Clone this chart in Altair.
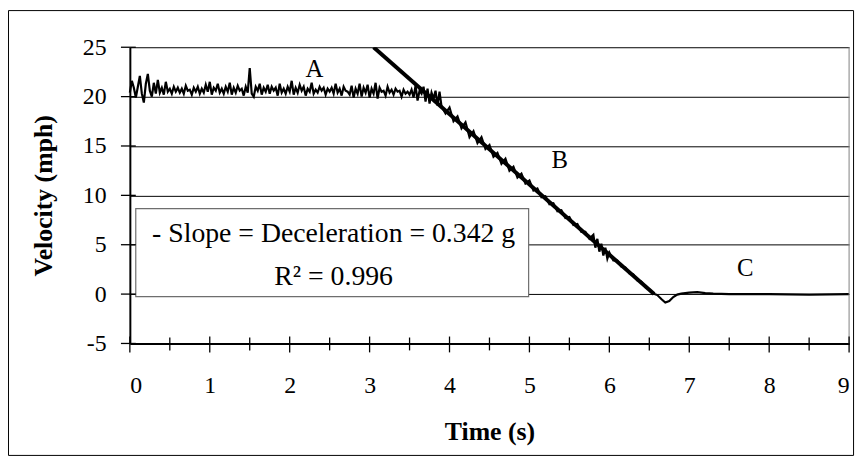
import altair as alt
import pandas as pd

# ---------------- data ----------------
# Region A: velocity sampled every 0.025 s starting at t = 0.000 s
plateau_step = 0.025
plateau_v = [
    20.4, 21.6, 20.9, 19.9, 21.0, 22.1, 20.3, 19.4, 21.3, 22.3, 20.6, 20.0, 21.4, 20.3, 21.7, 20.4, 20.9, 20.2, 21.5, 20.5,
    20.8, 20.3, 21.0, 20.5, 20.9, 20.4, 20.8, 20.3, 21.1, 20.6, 20.7, 20.2, 20.9, 20.5, 21.0, 20.3, 20.8, 20.4, 21.2, 20.5,
    21.5, 20.2, 20.9, 20.6, 21.3, 20.4, 20.8, 20.3, 21.0, 20.5, 21.4, 20.2, 20.9, 20.4, 21.1, 20.6, 20.8, 20.1, 21.0, 20.4,
    22.9, 20.3, 20.0, 21.0, 20.6, 21.3, 20.2, 20.9, 20.5, 21.2, 20.3, 21.0, 20.6, 20.9, 20.1, 21.3, 20.4, 20.8, 20.3, 21.0,
    20.5, 21.6, 20.2, 20.9, 20.4, 21.2, 20.6, 21.0, 20.1, 20.8, 20.5, 21.4, 20.3, 20.7, 20.4, 21.0, 20.6, 20.9, 20.2, 20.8,
    20.5, 20.9, 20.3, 21.3, 20.4, 20.8, 20.1, 21.0, 20.6, 20.5, 20.2, 21.1, 19.9, 20.8, 20.3, 21.3, 20.0, 20.9, 20.4, 21.2,
    19.9, 20.8, 20.3, 21.4, 19.8, 20.9, 20.5, 20.6, 20.1, 21.0, 20.4, 20.7, 20.2, 20.8, 20.5, 20.6, 20.0, 20.7, 20.3, 20.5,
    20.2, 20.7, 19.9, 21.1, 19.6, 20.6, 20.3, 21.0, 19.5, 20.8, 19.3, 20.4, 19.8, 20.6, 19.1, 20.5,
]

# Region B: braking
decline_t = [3.900, 3.950, 4.000, 4.050, 4.100, 4.150, 4.200, 4.250, 4.300, 4.350,
             4.400, 4.450, 4.500, 4.550, 4.600, 4.650, 4.700, 4.750, 4.800, 4.850,
             4.900, 4.950, 5.000, 5.050, 5.100, 5.150, 5.200, 5.250, 5.300, 5.350,
             5.400, 5.450, 5.500, 5.550, 5.600, 5.650, 5.700, 5.750, 5.800, 5.825,
             5.850, 5.875, 5.900, 5.925, 5.950, 5.975, 6.000, 6.050, 6.100, 6.150,
             6.200, 6.250, 6.300, 6.350, 6.400, 6.450, 6.500, 6.550]
decline_v = [19.0, 18.3, 18.9, 17.5, 18.0, 16.8, 17.4, 15.9, 16.5, 15.3,
             15.9, 14.7, 15.1, 13.9, 14.3, 13.2, 13.7, 12.5, 12.9, 11.8,
             12.2, 11.2, 11.5, 10.5, 10.7, 9.8, 9.9, 9.1, 9.2, 8.4,
             8.5, 7.7, 7.8, 7.0, 7.1, 6.3, 6.3, 5.6, 6.0, 4.7,
             5.6, 4.3, 5.1, 3.9, 4.7, 3.6, 4.2, 3.4, 3.4, 2.8,
             2.7, 2.1, 2.0, 1.4, 1.25, 0.7, 0.5, 0.05]

# Region C: stopped
tail_t = [6.60, 6.65, 6.70, 6.75, 6.80, 6.85, 6.90, 7.00, 7.10, 7.20, 7.30, 7.50, 8.00, 8.50, 9.00]
tail_v = [-0.1, -0.5, -0.85, -0.7, -0.3, -0.05, 0.05, 0.15, 0.2, 0.1, 0.05, 0.0, 0.0, -0.05, 0.0]

# Linear fit line
fit_t = [3.05, 6.56]
fit_v = [25.0, 0.0]

# Axes
x_major = [0, 1, 2, 3, 4, 5, 6, 7, 8, 9]
x_minor = [0.5, 1.5, 2.5, 3.5, 4.5, 5.5, 6.5, 7.5, 8.5]
y_ticks = [-5, 0, 5, 10, 15, 20, 25]

# Annotations
letters = ["A", "B", "C"]
letter_t = [2.31, 5.38, 7.70]
letter_v = [22.75, 13.55, 2.65]

box_lines = ["- Slope = Deceleration = 0.342 g", "R\u00b2 = 0.996"]
box_line_t = [2.55, 2.55]
box_line_v = [6.05, 1.75]
box_t = [0.074, 4.99]
box_v = [8.65, -0.25]

# ---------------- chart ----------------
W, H = 726, 299
FONT = "Liberation Serif"

trace_t = [round(i * plateau_step, 3) for i in range(len(plateau_v))] + decline_t + tail_t
trace_v = plateau_v + decline_v + tail_v
trace_df = pd.DataFrame({"t": trace_t, "v": trace_v, "o": list(range(len(trace_t)))})
fit_df = pd.DataFrame({"t": fit_t, "v": fit_v})

xscale = alt.Scale(domain=[0, 9], nice=False, zero=False)
yscale = alt.Scale(domain=[-5, 25], nice=False, zero=False)

x_axis = alt.Axis(values=x_major, ticks=False, grid=False, domainColor="black", domainWidth=2,
                  labelFont=FONT, labelFontSize=24, labelColor="black", labelPadding=43,
                  labelBaseline="middle", labelAngle=0, labelExpr="datum.value + ''",
                  title="Time (s)", titleFont=FONT, titleFontSize=26, titleFontWeight="bold",
                  titleColor="black", titleBaseline="middle", titleY=89, titleX=W / 2)
y_axis = alt.Axis(values=y_ticks, ticks=False, grid=True, gridColor="black", gridWidth=1, gridOpacity=1,
                  domainColor="black", domainWidth=2,
                  labelFont=FONT, labelFontSize=24, labelColor="black", labelPadding=24,
                  labelExpr="datum.value + ''",
                  title="Velocity (mph)", titleFont=FONT, titleFontSize=26, titleFontWeight="bold",
                  titleColor="black", titleAngle=270, titleAlign="center", titleBaseline="middle",
                  titleX=-87, titleY=H / 2)


def X(field="t"):
    return alt.X(f"{field}:Q", scale=xscale, axis=x_axis, title="Time (s)")


def Y(field="v"):
    return alt.Y(f"{field}:Q", scale=yscale, axis=y_axis, title="Velocity (mph)")


# outer frame (outline only)
frame = alt.Chart(pd.DataFrame({"a": [0]})).mark_rect(
    filled=False, stroke="black", strokeWidth=1).encode(
    x=alt.value(-122.5), x2=alt.value(730.5), y=alt.value(-37), y2=alt.value(412))

trace = alt.Chart(trace_df).mark_line(color="black", strokeWidth=2.2).encode(
    x=X(), y=Y(), order="o:Q")

fit = alt.Chart(fit_df).mark_line(color="black", strokeWidth=4, clip=True).encode(x=X(), y=Y())

right_border = alt.Chart(pd.DataFrame({"t": [9], "v": [-5], "v2": [25]})).mark_rule(
    color="#808080", strokeWidth=1).encode(x=X(), y=Y(), y2="v2:Q")

box_df = pd.DataFrame({"t": [box_t[0]], "t2": [box_t[1]], "v": [box_v[0]], "v2": [box_v[1]]})
box = alt.Chart(box_df).mark_rect(fill="white", stroke="#6e6e6e", strokeWidth=1.2).encode(
    x=X(), x2="t2:Q", y=Y(), y2="v2:Q")

box_text = alt.Chart(pd.DataFrame({"t": box_line_t, "v": box_line_v, "s": box_lines})).mark_text(
    font=FONT, fontSize=28, color="black", align="center", baseline="middle").encode(
    x=X(), y=Y(), text="s:N")

letter_text = alt.Chart(pd.DataFrame({"t": letter_t, "v": letter_v, "s": letters})).mark_text(
    font=FONT, fontSize=25, color="black", align="center", baseline="middle").encode(
    x=X(), y=Y(), text="s:N")

xmaj = alt.Chart(pd.DataFrame({"t": x_major})).mark_rule(color="black", strokeWidth=1.3).encode(
    x=X(), y=alt.value(H - 7), y2=alt.value(H + 9))
xmin = alt.Chart(pd.DataFrame({"t": x_minor})).mark_rule(color="black", strokeWidth=1.3).encode(
    x=X(), y=alt.value(H - 6), y2=alt.value(H + 7))
ytk = alt.Chart(pd.DataFrame({"v": y_ticks})).mark_rule(color="black", strokeWidth=1.3).encode(
    y=Y(), x=alt.value(-9), x2=alt.value(6))

chart = alt.layer(
    frame, trace, fit, right_border, box, box_text, letter_text, xmaj, xmin, ytk
).properties(
    width=W, height=H,
    autosize=alt.AutoSizeParams(type="none"),
    padding={"left": 123, "top": 37.5, "right": 10, "bottom": 113.5},
    background="white",
).configure_view(strokeWidth=0)

chart.save("out.html", embed_options={"renderer": "svg", "actions": False})
